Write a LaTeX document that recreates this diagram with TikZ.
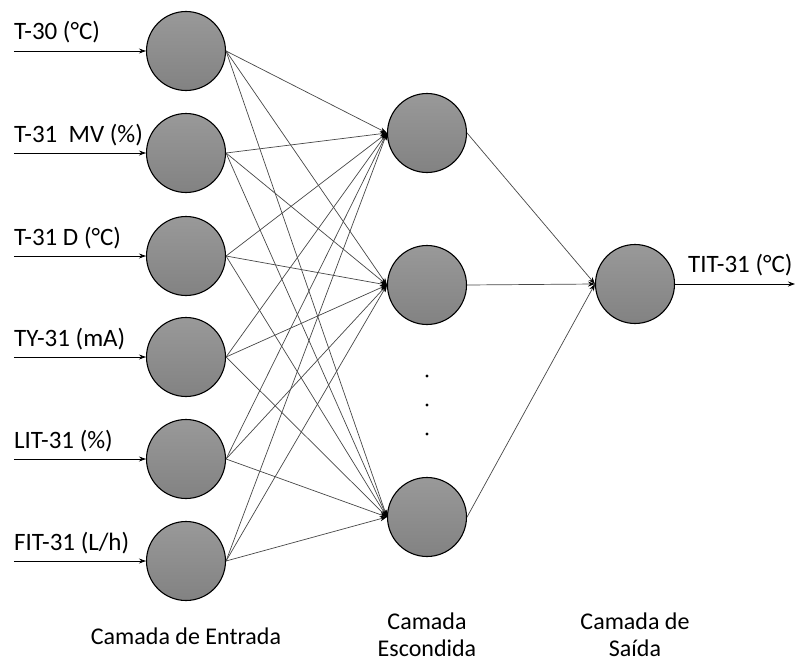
\documentclass[tikz,border=0pt]{standalone}
\usepackage{fontspec}
\setmainfont{Carlito}
\usetikzlibrary{arrows.meta}
\begin{document}
\begin{tikzpicture}[x=1pt,y=-1pt,
  neuron/.style={circle,draw=black,line width=1.1pt,minimum size=79pt,inner sep=0pt,
    top color=gray!80,bottom color=gray!98},
  link/.style={draw=black!72,line width=0.7pt,-{Stealth[length=7pt,width=5pt,color=black,fill=black]}},
  feed/.style={draw=black,line width=0.8pt,-{Stealth[length=7pt,width=5pt]}},
  lbl/.style={font=\fontsize{25}{30}\selectfont,inner sep=0pt},
  layer/.style={font=\fontsize{24}{29}\selectfont,inner sep=0pt}]
\useasboundingbox (0,0) rectangle (795,661);

% input layer
\foreach \i/\y in {1/51,2/153,3/256,4/357,5/459,6/561}
  \node[neuron] (in\i) at (186,\y) {};
% hidden layer
\node[neuron] (h1) at (427,133) {};
\node[neuron] (h2) at (427,285) {};
\node[neuron] (h3) at (427,517) {};
% output layer
\node[neuron] (out) at (635,284) {};

% input signals
\foreach \i/\t in {1/{T-30 (°C)},2/{T-31\ \ MV (\%)},3/{T-31 D (°C)},4/{TY-31 (mA)},5/{LIT-31 (\%)},6/{FIT-31 (L/h)}}{
  \coordinate (src\i) at ([xshift=-132pt]in\i.west);
  \draw[feed] (src\i) -- (in\i.west);
  \node[lbl,anchor=base west] at ([yshift=11pt]src\i) {\t};
}

% input to hidden connections
\foreach \i in {1,...,6}
  \foreach \j in {1,2,3}
    \draw[link] (in\i.east) -- (h\j.west);

% hidden to output connections
\foreach \j in {1,2,3}
  \draw[link] (h\j.east) -- (out.west);

% output signal
\coordinate (dst) at (795,284);
\draw[feed] (out.east) -- (dst);
\node[lbl,anchor=base west] at (688,272) {TIT-31 (°C)};

% ellipsis between hidden neurons
\foreach \y in {376,405,434}
  \fill (427,\y) circle (1.6pt);

% layer captions
\node[layer] at (186,636) {Camada de Entrada};
\node[layer] at (427,621) {Camada};
\node[layer] at (427,648) {Escondida};
\node[layer] at (635,621) {Camada de};
\node[layer] at (635,648) {Saída};
\end{tikzpicture}
\end{document}
